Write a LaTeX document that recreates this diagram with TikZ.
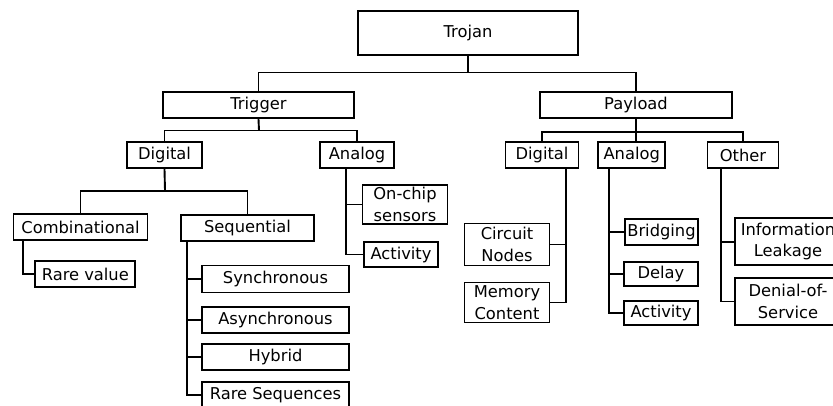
\documentclass[tikz,border=0pt]{standalone}
\usepackage{fontspec}
\setmainfont{DejaVu Sans}
\begin{document}
\begin{tikzpicture}[x=1pt,y=-1pt,
  box/.style={draw,line width=1.9pt,rectangle,inner sep=0pt,align=center,
    font=\fontsize{16.3}{21.5}\selectfont},
  conn/.style={line width=1.9pt}]
\useasboundingbox (0,0) rectangle (833,405);
\clip (0,0) rectangle (833,405);
% level 0/1
\node[box,minimum width=220,minimum height=44] (trojan) at (468,33) {Trojan};
\node[box,minimum width=191,minimum height=26] (trigger) at (258.5,105) {Trigger};
\node[box,minimum width=192,minimum height=26] (payload) at (636,105) {Payload};
% trigger branch
\node[box,minimum width=75,minimum height=26] (tdig) at (164.5,155) {Digital};
\node[box,minimum width=74,minimum height=26] (tana) at (357,155) {Analog};
\node[box,minimum width=134,minimum height=26] (comb) at (80.5,227) {Combinational};
\node[box,minimum width=133,minimum height=26] (seq) at (247.5,228) {Sequential};
\node[box,minimum width=100,minimum height=26] (rare) at (85.3,274) {Rare value};
\node[box,minimum width=85,minimum height=39] (onchip) at (405,204.5) {On-chip\\sensors};
\node[box,minimum width=74,minimum height=25] (tact) at (401,254.5) {Activity};
\node[box,minimum width=147,minimum height=27] (sync) at (275.5,279) {Synchronous};
\node[box,minimum width=147,minimum height=26] (async) at (275.5,320) {Asynchronous};
\node[box,minimum width=147,minimum height=26] (hybrid) at (275.5,357) {Hybrid};
\node[box,minimum width=147,minimum height=26] (rareseq) at (275.5,395) {Rare Sequences};
% payload branch
\node[box,minimum width=73,minimum height=26] (pdig) at (542,155) {Digital};
\node[box,minimum width=67,minimum height=26] (pana) at (631.7,155) {Analog};
\node[box,minimum width=71,minimum height=26] (poth) at (743,155) {Other};
\node[box,minimum width=85,minimum height=42] (circ) at (507,244.5) {Circuit\\Nodes};
\node[box,minimum width=85,minimum height=40] (mem) at (507,302.5) {Memory\\Content};
\node[box,minimum width=73,minimum height=26] (bridge) at (661.5,232) {Bridging};
\node[box,minimum width=74,minimum height=24] (delay) at (661,274) {Delay};
\node[box,minimum width=74,minimum height=24] (pact) at (661,313) {Activity};
\node[box,minimum width=106,minimum height=47] (info) at (788,241.7) {Information\\Leakage};
\node[box,minimum width=106,minimum height=47] (dos) at (788,301.5) {Denial-of-\\Service};
% junction coordinates
\coordinate (j0) at (468,72.5);
\coordinate (j1) at (259,130.5);
\coordinate (j2) at (165,190.7);
\coordinate (j3) at (636,131.7);
% connectors
\draw[conn] (trojan.south) -- (j0);
\draw[conn] (trigger.north) |- (j0) -| (payload.north);
\draw[conn] (trigger.south) -- (j1);
\draw[conn] (tdig.north) |- (j1) -| (tana.north);
\draw[conn] (tdig.south) -- (j2);
\draw[conn] (comb.north) |- (j2) -| (seq.north);
\draw[conn] ([xshift=10pt]comb.south west) |- (rare.west);
\draw[conn] ([xshift=7pt]seq.south west) |- (rareseq.west);
\draw[conn] ([xshift=7pt]seq.south west) |- (sync.west);
\draw[conn] ([xshift=7pt]seq.south west) |- (async.west);
\draw[conn] ([xshift=7pt]seq.south west) |- (hybrid.west);
\draw[conn] ([xshift=27pt]tana.south west) |- (tact.west);
\draw[conn] ([xshift=27pt]tana.south west) |- (onchip.west);
\draw[conn] (payload.south) -- (payload.south |- pana.north);
\draw[conn] (pdig.north) |- (j3) -| (poth.north);
\draw[conn] ([xshift=-13.5pt]pdig.south east) |- (mem.east);
\draw[conn] ([xshift=-13.5pt]pdig.south east) |- (circ.east);
\draw[conn] ([xshift=12pt]pana.south west) |- (pact.west);
\draw[conn] ([xshift=12pt]pana.south west) |- (bridge.west);
\draw[conn] ([xshift=12pt]pana.south west) |- (delay.west);
\draw[conn] ([xshift=14pt]poth.south west) |- (dos.west);
\draw[conn] ([xshift=14pt]poth.south west) |- (info.west);
\end{tikzpicture}
\end{document}
